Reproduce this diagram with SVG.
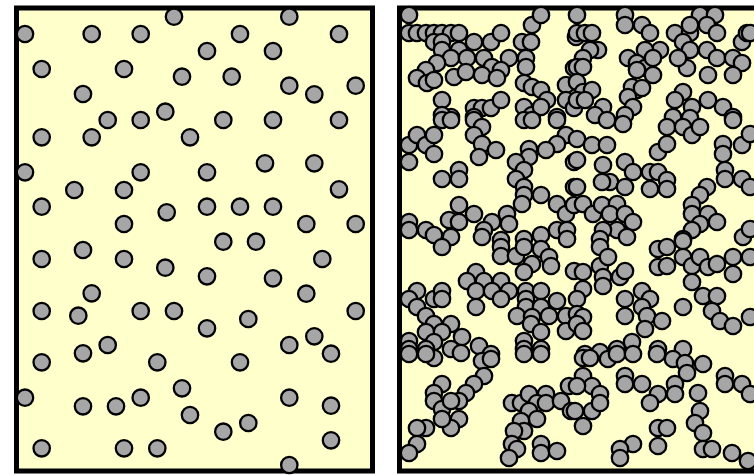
<svg xmlns="http://www.w3.org/2000/svg" width="754" height="475" viewBox="0 0 754 475">
<style>
.box{fill:#ffffcc;stroke:#000;stroke-width:5}
.p circle{fill:#a6a6a6;stroke:#000;stroke-width:2.3}
</style>
<rect width="754" height="475" fill="#fff"/>
<g id="left-panel">
<rect class="box" x="16.5" y="8" width="356" height="463"/>
<g class="p">
<circle cx="25" cy="34" r="8.2"/><circle cx="91.7" cy="34" r="8.2"/><circle cx="140.7" cy="34" r="8.2"/><circle cx="174" cy="16.7" r="8.2"/><circle cx="41.7" cy="69" r="8.2"/><circle cx="124" cy="69" r="8.2"/><circle cx="182" cy="76.7" r="8.2"/><circle cx="83" cy="94" r="8.2"/><circle cx="107.7" cy="120" r="8.2"/><circle cx="140.7" cy="120" r="8.2"/><circle cx="165.3" cy="111.7" r="8.2"/><circle cx="41.7" cy="137.3" r="8.2"/><circle cx="91.7" cy="137.3" r="8.2"/><circle cx="190" cy="137.3" r="8.2"/><circle cx="25" cy="172.3" r="8.2"/><circle cx="140.7" cy="172.3" r="8.2"/><circle cx="74.3" cy="190" r="8.2"/><circle cx="124" cy="190" r="8.2"/><circle cx="41.7" cy="206.7" r="8.2"/><circle cx="166.7" cy="212.3" r="8.2"/><circle cx="124" cy="224" r="8.2"/>
<circle cx="289.3" cy="16.7" r="8.2"/><circle cx="240" cy="34" r="8.2"/><circle cx="339" cy="34" r="8.2"/><circle cx="207" cy="51" r="8.2"/><circle cx="273" cy="51" r="8.2"/><circle cx="231.7" cy="76.7" r="8.2"/><circle cx="289.3" cy="85.7" r="8.2"/><circle cx="314.3" cy="94.3" r="8.2"/><circle cx="355.7" cy="85.7" r="8.2"/><circle cx="223.3" cy="120" r="8.2"/><circle cx="273" cy="120" r="8.2"/><circle cx="339" cy="120" r="8.2"/><circle cx="207" cy="172.3" r="8.2"/><circle cx="265" cy="163.3" r="8.2"/><circle cx="314.3" cy="163.3" r="8.2"/><circle cx="339" cy="189.3" r="8.2"/><circle cx="207" cy="206.7" r="8.2"/><circle cx="240" cy="206.7" r="8.2"/><circle cx="273" cy="206.7" r="8.2"/><circle cx="306.3" cy="224" r="8.2"/><circle cx="355.7" cy="224" r="8.2"/><circle cx="223.3" cy="241.7" r="8.2"/><circle cx="256" cy="241.7" r="8.2"/>
<circle cx="41.7" cy="259" r="8.2"/><circle cx="83" cy="250" r="8.2"/><circle cx="124" cy="259" r="8.2"/><circle cx="165.3" cy="267.7" r="8.2"/><circle cx="91.7" cy="293.3" r="8.2"/><circle cx="41.7" cy="311" r="8.2"/><circle cx="78.3" cy="315.7" r="8.2"/><circle cx="140.7" cy="311" r="8.2"/><circle cx="174" cy="311" r="8.2"/><circle cx="107.7" cy="345" r="8.2"/><circle cx="83" cy="353.3" r="8.2"/><circle cx="41.7" cy="362.3" r="8.2"/><circle cx="157.3" cy="362.3" r="8.2"/><circle cx="25" cy="397.7" r="8.2"/><circle cx="83" cy="406.3" r="8.2"/><circle cx="116" cy="406.3" r="8.2"/><circle cx="140.7" cy="397.7" r="8.2"/><circle cx="182" cy="388.3" r="8.2"/><circle cx="190" cy="415" r="8.2"/><circle cx="41.7" cy="448.3" r="8.2"/><circle cx="124" cy="448.3" r="8.2"/><circle cx="157.3" cy="448.3" r="8.2"/>
<circle cx="322.3" cy="259" r="8.2"/><circle cx="207" cy="276.3" r="8.2"/><circle cx="273" cy="278.3" r="8.2"/><circle cx="306.3" cy="293.7" r="8.2"/><circle cx="355.7" cy="311" r="8.2"/><circle cx="207" cy="328.3" r="8.2"/><circle cx="248.3" cy="319" r="8.2"/><circle cx="289.3" cy="345" r="8.2"/><circle cx="314.3" cy="336.3" r="8.2"/><circle cx="331" cy="353.7" r="8.2"/><circle cx="240" cy="362.3" r="8.2"/><circle cx="223.3" cy="431.7" r="8.2"/><circle cx="248.3" cy="423" r="8.2"/><circle cx="289.3" cy="397.7" r="8.2"/><circle cx="331" cy="405.7" r="8.2"/><circle cx="331" cy="440.3" r="8.2"/><circle cx="289.3" cy="465" r="8.2"/>
</g>
</g>
<g id="right-panel">
<rect class="box" x="399.5" y="8" width="400" height="463"/>
<g class="p">
<circle cx="409" cy="15" r="8.2"/><circle cx="409" cy="33" r="8.2"/><circle cx="417" cy="33" r="8.2"/><circle cx="426" cy="33" r="8.2"/><circle cx="434" cy="33" r="8.2"/><circle cx="442" cy="33" r="8.2"/><circle cx="451" cy="33" r="8.2"/><circle cx="459" cy="33" r="8.2"/><circle cx="434" cy="42" r="8.2"/><circle cx="442" cy="42" r="8.2"/><circle cx="442" cy="50" r="8.2"/><circle cx="459" cy="50" r="8.2"/><circle cx="474" cy="42" r="8.2"/><circle cx="491" cy="42" r="8.2"/><circle cx="501" cy="33" r="8.2"/><circle cx="522" cy="42" r="8.2"/><circle cx="532" cy="25" r="8.2"/><circle cx="541" cy="15" r="8.2"/><circle cx="531" cy="42" r="8.2"/><circle cx="451" cy="58" r="8.2"/><circle cx="467" cy="58" r="8.2"/><circle cx="484" cy="58" r="8.2"/><circle cx="492" cy="67" r="8.2"/><circle cx="509" cy="58" r="8.2"/><circle cx="526" cy="58" r="8.2"/><circle cx="526" cy="67" r="8.2"/><circle cx="437" cy="63" r="8.2"/><circle cx="426" cy="70" r="8.2"/><circle cx="417" cy="78" r="8.2"/><circle cx="427" cy="83" r="8.2"/><circle cx="434" cy="80" r="8.2"/><circle cx="454" cy="77" r="8.2"/><circle cx="466" cy="72" r="8.2"/><circle cx="482" cy="75" r="8.2"/><circle cx="501" cy="70" r="8.2"/><circle cx="497" cy="78" r="8.2"/><circle cx="524" cy="83" r="8.2"/><circle cx="532" cy="87" r="8.2"/><circle cx="541" cy="90" r="8.2"/><circle cx="547" cy="100" r="8.2"/><circle cx="566" cy="85" r="8.2"/><circle cx="574" cy="68" r="8.2"/><circle cx="576" cy="37" r="8.2"/><circle cx="442" cy="100" r="8.2"/><circle cx="451" cy="117" r="8.2"/><circle cx="442" cy="115" r="8.2"/><circle cx="474" cy="108" r="8.2"/><circle cx="482" cy="108" r="8.2"/><circle cx="491" cy="108" r="8.2"/><circle cx="501" cy="100" r="8.2"/><circle cx="474" cy="117" r="8.2"/><circle cx="524" cy="107" r="8.2"/><circle cx="532" cy="115" r="8.2"/><circle cx="541" cy="107" r="8.2"/><circle cx="557" cy="117" r="8.2"/><circle cx="566" cy="100" r="8.2"/><circle cx="574" cy="108" r="8.2"/>
<circle cx="577" cy="15" r="8.2"/><circle cx="577" cy="33" r="8.2"/><circle cx="585" cy="33" r="8.2"/><circle cx="592" cy="33" r="8.2"/><circle cx="598" cy="50" r="8.2"/><circle cx="590" cy="50" r="8.2"/><circle cx="583" cy="58" r="8.2"/><circle cx="577" cy="67" r="8.2"/><circle cx="583" cy="67" r="8.2"/><circle cx="625" cy="15" r="8.2"/><circle cx="625" cy="25" r="8.2"/><circle cx="642" cy="25" r="8.2"/><circle cx="650" cy="33" r="8.2"/><circle cx="675" cy="33" r="8.2"/><circle cx="690" cy="33" r="8.2"/><circle cx="700" cy="15" r="8.2"/><circle cx="715" cy="15" r="8.2"/><circle cx="707" cy="25" r="8.2"/><circle cx="717" cy="33" r="8.2"/><circle cx="690" cy="25" r="8.2"/><circle cx="683" cy="42" r="8.2"/><circle cx="690" cy="50" r="8.2"/><circle cx="707" cy="50" r="8.2"/><circle cx="717" cy="58" r="8.2"/><circle cx="742" cy="42" r="8.2"/><circle cx="747" cy="33" r="8.2"/><circle cx="733" cy="58" r="8.2"/><circle cx="742" cy="63" r="8.2"/><circle cx="733" cy="75" r="8.2"/><circle cx="708" cy="75" r="8.2"/><circle cx="687" cy="68" r="8.2"/><circle cx="678" cy="58" r="8.2"/><circle cx="660" cy="50" r="8.2"/><circle cx="645" cy="50" r="8.2"/><circle cx="628" cy="58" r="8.2"/><circle cx="637" cy="63" r="8.2"/><circle cx="645" cy="68" r="8.2"/><circle cx="653" cy="75" r="8.2"/><circle cx="637" cy="70" r="8.2"/><circle cx="653" cy="58" r="8.2"/><circle cx="637" cy="90" r="8.2"/><circle cx="632" cy="87" r="8.2"/><circle cx="628" cy="97" r="8.2"/><circle cx="633" cy="107" r="8.2"/><circle cx="625" cy="115" r="8.2"/><circle cx="642" cy="88" r="8.2"/><circle cx="577" cy="82" r="8.2"/><circle cx="583" cy="92" r="8.2"/><circle cx="592" cy="90" r="8.2"/><circle cx="577" cy="100" r="8.2"/><circle cx="585" cy="100" r="8.2"/><circle cx="603" cy="107" r="8.2"/><circle cx="595" cy="115" r="8.2"/><circle cx="683" cy="92" r="8.2"/><circle cx="675" cy="100" r="8.2"/><circle cx="692" cy="107" r="8.2"/><circle cx="708" cy="100" r="8.2"/><circle cx="723" cy="107" r="8.2"/><circle cx="733" cy="117" r="8.2"/><circle cx="673" cy="117" r="8.2"/><circle cx="690" cy="118" r="8.2"/><circle cx="750" cy="33" r="8.2"/>
<circle cx="409" cy="145" r="8.2"/><circle cx="417" cy="135" r="8.2"/><circle cx="426" cy="145" r="8.2"/><circle cx="434" cy="135" r="8.2"/><circle cx="434" cy="154" r="8.2"/><circle cx="409" cy="162" r="8.2"/><circle cx="442" cy="179" r="8.2"/><circle cx="459" cy="170" r="8.2"/><circle cx="459" cy="179" r="8.2"/><circle cx="442" cy="120" r="8.2"/><circle cx="451" cy="120" r="8.2"/><circle cx="474" cy="120" r="8.2"/><circle cx="482" cy="127" r="8.2"/><circle cx="474" cy="135" r="8.2"/><circle cx="482" cy="144" r="8.2"/><circle cx="479" cy="157" r="8.2"/><circle cx="496" cy="150" r="8.2"/><circle cx="524" cy="120" r="8.2"/><circle cx="532" cy="120" r="8.2"/><circle cx="557" cy="120" r="8.2"/><circle cx="566" cy="135" r="8.2"/><circle cx="557" cy="144" r="8.2"/><circle cx="546" cy="150" r="8.2"/><circle cx="529" cy="149" r="8.2"/><circle cx="529" cy="157" r="8.2"/><circle cx="516" cy="162" r="8.2"/><circle cx="524" cy="170" r="8.2"/><circle cx="516" cy="179" r="8.2"/><circle cx="524" cy="187" r="8.2"/><circle cx="524" cy="195" r="8.2"/><circle cx="522" cy="204" r="8.2"/><circle cx="541" cy="195" r="8.2"/><circle cx="574" cy="162" r="8.2"/><circle cx="574" cy="187" r="8.2"/><circle cx="557" cy="204" r="8.2"/><circle cx="566" cy="214" r="8.2"/><circle cx="574" cy="205" r="8.2"/><circle cx="459" cy="205" r="8.2"/><circle cx="474" cy="214" r="8.2"/><circle cx="449" cy="220" r="8.2"/><circle cx="459" cy="222" r="8.2"/><circle cx="492" cy="222" r="8.2"/><circle cx="507" cy="214" r="8.2"/><circle cx="509" cy="224" r="8.2"/><circle cx="484" cy="230" r="8.2"/><circle cx="409" cy="222" r="8.2"/><circle cx="409" cy="230" r="8.2"/><circle cx="426" cy="230" r="8.2"/><circle cx="434" cy="235" r="8.2"/><circle cx="451" cy="237" r="8.2"/><circle cx="541" cy="235" r="8.2"/><circle cx="524" cy="239" r="8.2"/><circle cx="557" cy="230" r="8.2"/><circle cx="567" cy="230" r="8.2"/><circle cx="501" cy="240" r="8.2"/>
<circle cx="577" cy="139" r="8.2"/><circle cx="577" cy="160" r="8.2"/><circle cx="592" cy="145" r="8.2"/><circle cx="607" cy="145" r="8.2"/><circle cx="603" cy="165" r="8.2"/><circle cx="625" cy="162" r="8.2"/><circle cx="633" cy="172" r="8.2"/><circle cx="610" cy="182" r="8.2"/><circle cx="602" cy="182" r="8.2"/><circle cx="625" cy="187" r="8.2"/><circle cx="577" cy="187" r="8.2"/><circle cx="583" cy="204" r="8.2"/><circle cx="593" cy="214" r="8.2"/><circle cx="602" cy="205" r="8.2"/><circle cx="617" cy="204" r="8.2"/><circle cx="610" cy="214" r="8.2"/><circle cx="625" cy="214" r="8.2"/><circle cx="633" cy="222" r="8.2"/><circle cx="617" cy="230" r="8.2"/><circle cx="603" cy="230" r="8.2"/><circle cx="600" cy="239" r="8.2"/><circle cx="650" cy="172" r="8.2"/><circle cx="658" cy="172" r="8.2"/><circle cx="667" cy="180" r="8.2"/><circle cx="650" cy="189" r="8.2"/><circle cx="667" cy="189" r="8.2"/><circle cx="658" cy="152" r="8.2"/><circle cx="667" cy="144" r="8.2"/><circle cx="667" cy="127" r="8.2"/><circle cx="683" cy="127" r="8.2"/><circle cx="692" cy="135" r="8.2"/><circle cx="700" cy="127" r="8.2"/><circle cx="623" cy="124" r="8.2"/><circle cx="607" cy="120" r="8.2"/><circle cx="723" cy="144" r="8.2"/><circle cx="723" cy="154" r="8.2"/><circle cx="725" cy="170" r="8.2"/><circle cx="725" cy="179" r="8.2"/><circle cx="742" cy="145" r="8.2"/><circle cx="750" cy="134" r="8.2"/><circle cx="742" cy="179" r="8.2"/><circle cx="750" cy="187" r="8.2"/><circle cx="733" cy="120" r="8.2"/><circle cx="707" cy="187" r="8.2"/><circle cx="700" cy="195" r="8.2"/><circle cx="692" cy="205" r="8.2"/><circle cx="692" cy="214" r="8.2"/><circle cx="708" cy="214" r="8.2"/><circle cx="717" cy="222" r="8.2"/><circle cx="700" cy="224" r="8.2"/><circle cx="692" cy="230" r="8.2"/><circle cx="683" cy="239" r="8.2"/><circle cx="743" cy="237" r="8.2"/><circle cx="750" cy="229" r="8.2"/>
<circle cx="442" cy="247" r="8.2"/><circle cx="482" cy="237" r="8.2"/><circle cx="501" cy="247" r="8.2"/><circle cx="501" cy="256" r="8.2"/><circle cx="516" cy="256" r="8.2"/><circle cx="524" cy="247" r="8.2"/><circle cx="541" cy="249" r="8.2"/><circle cx="549" cy="257" r="8.2"/><circle cx="532" cy="264" r="8.2"/><circle cx="551" cy="266" r="8.2"/><circle cx="524" cy="272" r="8.2"/><circle cx="567" cy="239" r="8.2"/><circle cx="476" cy="272" r="8.2"/><circle cx="467" cy="281" r="8.2"/><circle cx="484" cy="281" r="8.2"/><circle cx="501" cy="281" r="8.2"/><circle cx="476" cy="291" r="8.2"/><circle cx="492" cy="291" r="8.2"/><circle cx="509" cy="291" r="8.2"/><circle cx="526" cy="291" r="8.2"/><circle cx="541" cy="291" r="8.2"/><circle cx="501" cy="299" r="8.2"/><circle cx="526" cy="299" r="8.2"/><circle cx="476" cy="307" r="8.2"/><circle cx="526" cy="307" r="8.2"/><circle cx="541" cy="307" r="8.2"/><circle cx="557" cy="301" r="8.2"/><circle cx="517" cy="316" r="8.2"/><circle cx="532" cy="317" r="8.2"/><circle cx="549" cy="316" r="8.2"/><circle cx="566" cy="316" r="8.2"/><circle cx="531" cy="324" r="8.2"/><circle cx="541" cy="332" r="8.2"/><circle cx="566" cy="331" r="8.2"/><circle cx="524" cy="341" r="8.2"/><circle cx="541" cy="349" r="8.2"/><circle cx="524" cy="349" r="8.2"/><circle cx="417" cy="291" r="8.2"/><circle cx="409" cy="299" r="8.2"/><circle cx="434" cy="299" r="8.2"/><circle cx="442" cy="291" r="8.2"/><circle cx="442" cy="299" r="8.2"/><circle cx="417" cy="307" r="8.2"/><circle cx="426" cy="316" r="8.2"/><circle cx="434" cy="324" r="8.2"/><circle cx="451" cy="324" r="8.2"/><circle cx="426" cy="332" r="8.2"/><circle cx="442" cy="332" r="8.2"/><circle cx="462" cy="337" r="8.2"/><circle cx="409" cy="341" r="8.2"/><circle cx="434" cy="342" r="8.2"/><circle cx="426" cy="349" r="8.2"/><circle cx="409" cy="349" r="8.2"/><circle cx="479" cy="346" r="8.2"/><circle cx="491" cy="354" r="8.2"/><circle cx="451" cy="349" r="8.2"/><circle cx="574" cy="271" r="8.2"/>
<circle cx="600" cy="247" r="8.2"/><circle cx="600" cy="266" r="8.2"/><circle cx="608" cy="257" r="8.2"/><circle cx="603" cy="277" r="8.2"/><circle cx="603" cy="286" r="8.2"/><circle cx="620" cy="277" r="8.2"/><circle cx="625" cy="271" r="8.2"/><circle cx="583" cy="272" r="8.2"/><circle cx="583" cy="289" r="8.2"/><circle cx="577" cy="299" r="8.2"/><circle cx="577" cy="314" r="8.2"/><circle cx="583" cy="317" r="8.2"/><circle cx="577" cy="324" r="8.2"/><circle cx="583" cy="331" r="8.2"/><circle cx="625" cy="299" r="8.2"/><circle cx="625" cy="316" r="8.2"/><circle cx="642" cy="291" r="8.2"/><circle cx="650" cy="299" r="8.2"/><circle cx="642" cy="307" r="8.2"/><circle cx="647" cy="316" r="8.2"/><circle cx="645" cy="329" r="8.2"/><circle cx="662" cy="321" r="8.2"/><circle cx="632" cy="342" r="8.2"/><circle cx="617" cy="349" r="8.2"/><circle cx="600" cy="352" r="8.2"/><circle cx="585" cy="354" r="8.2"/><circle cx="658" cy="349" r="8.2"/><circle cx="683" cy="349" r="8.2"/><circle cx="683" cy="307" r="8.2"/><circle cx="658" cy="249" r="8.2"/><circle cx="667" cy="247" r="8.2"/><circle cx="658" cy="267" r="8.2"/><circle cx="667" cy="266" r="8.2"/><circle cx="683" cy="241" r="8.2"/><circle cx="683" cy="257" r="8.2"/><circle cx="692" cy="266" r="8.2"/><circle cx="700" cy="257" r="8.2"/><circle cx="708" cy="267" r="8.2"/><circle cx="692" cy="282" r="8.2"/><circle cx="703" cy="296" r="8.2"/><circle cx="717" cy="296" r="8.2"/><circle cx="712" cy="311" r="8.2"/><circle cx="720" cy="321" r="8.2"/><circle cx="733" cy="326" r="8.2"/><circle cx="750" cy="317" r="8.2"/><circle cx="717" cy="264" r="8.2"/><circle cx="733" cy="257" r="8.2"/><circle cx="733" cy="274" r="8.2"/><circle cx="750" cy="257" r="8.2"/><circle cx="627" cy="237" r="8.2"/>
<circle cx="409" cy="354" r="8.2"/><circle cx="434" cy="358" r="8.2"/><circle cx="426" cy="354" r="8.2"/><circle cx="461" cy="353" r="8.2"/><circle cx="482" cy="361" r="8.2"/><circle cx="491" cy="359" r="8.2"/><circle cx="484" cy="376" r="8.2"/><circle cx="474" cy="384" r="8.2"/><circle cx="466" cy="393" r="8.2"/><circle cx="459" cy="401" r="8.2"/><circle cx="442" cy="384" r="8.2"/><circle cx="434" cy="393" r="8.2"/><circle cx="434" cy="401" r="8.2"/><circle cx="442" cy="409" r="8.2"/><circle cx="451" cy="401" r="8.2"/><circle cx="459" cy="419" r="8.2"/><circle cx="451" cy="428" r="8.2"/><circle cx="442" cy="419" r="8.2"/><circle cx="426" cy="428" r="8.2"/><circle cx="417" cy="428" r="8.2"/><circle cx="417" cy="444" r="8.2"/><circle cx="409" cy="453" r="8.2"/><circle cx="512" cy="403" r="8.2"/><circle cx="521" cy="403" r="8.2"/><circle cx="529" cy="394" r="8.2"/><circle cx="546" cy="394" r="8.2"/><circle cx="537" cy="403" r="8.2"/><circle cx="546" cy="403" r="8.2"/><circle cx="529" cy="411" r="8.2"/><circle cx="537" cy="419" r="8.2"/><circle cx="521" cy="421" r="8.2"/><circle cx="524" cy="431" r="8.2"/><circle cx="514" cy="431" r="8.2"/><circle cx="512" cy="444" r="8.2"/><circle cx="517" cy="449" r="8.2"/><circle cx="509" cy="458" r="8.2"/><circle cx="541" cy="444" r="8.2"/><circle cx="541" cy="453" r="8.2"/><circle cx="557" cy="451" r="8.2"/><circle cx="561" cy="401" r="8.2"/><circle cx="569" cy="386" r="8.2"/><circle cx="571" cy="411" r="8.2"/><circle cx="524" cy="354" r="8.2"/><circle cx="541" cy="354" r="8.2"/>
<circle cx="583" cy="358" r="8.2"/><circle cx="590" cy="358" r="8.2"/><circle cx="608" cy="359" r="8.2"/><circle cx="617" cy="354" r="8.2"/><circle cx="633" cy="354" r="8.2"/><circle cx="657" cy="354" r="8.2"/><circle cx="673" cy="359" r="8.2"/><circle cx="685" cy="363" r="8.2"/><circle cx="703" cy="364" r="8.2"/><circle cx="687" cy="373" r="8.2"/><circle cx="583" cy="376" r="8.2"/><circle cx="592" cy="386" r="8.2"/><circle cx="600" cy="394" r="8.2"/><circle cx="577" cy="386" r="8.2"/><circle cx="592" cy="411" r="8.2"/><circle cx="583" cy="426" r="8.2"/><circle cx="575" cy="411" r="8.2"/><circle cx="600" cy="403" r="8.2"/><circle cx="625" cy="376" r="8.2"/><circle cx="625" cy="384" r="8.2"/><circle cx="642" cy="384" r="8.2"/><circle cx="658" cy="394" r="8.2"/><circle cx="650" cy="403" r="8.2"/><circle cx="675" cy="384" r="8.2"/><circle cx="675" cy="394" r="8.2"/><circle cx="698" cy="393" r="8.2"/><circle cx="700" cy="411" r="8.2"/><circle cx="695" cy="423" r="8.2"/><circle cx="703" cy="433" r="8.2"/><circle cx="703" cy="449" r="8.2"/><circle cx="712" cy="449" r="8.2"/><circle cx="725" cy="376" r="8.2"/><circle cx="725" cy="384" r="8.2"/><circle cx="742" cy="384" r="8.2"/><circle cx="750" cy="394" r="8.2"/><circle cx="658" cy="428" r="8.2"/><circle cx="667" cy="428" r="8.2"/><circle cx="658" cy="446" r="8.2"/><circle cx="633" cy="444" r="8.2"/><circle cx="620" cy="449" r="8.2"/><circle cx="620" cy="458" r="8.2"/><circle cx="732" cy="453" r="8.2"/><circle cx="748" cy="461" r="8.2"/>
</g>
</g>
</svg>
